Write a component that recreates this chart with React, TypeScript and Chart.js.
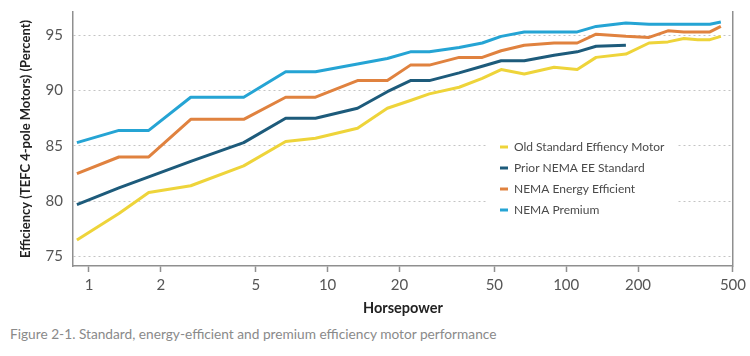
import { useEffect, useRef } from "react";
import { Chart, registerables } from "chart.js";

Chart.register(...registerables);

// Horsepower ratings (x values)
const horsepower = [1, 1.5, 2, 3, 5, 7.5, 10, 15, 20, 25, 30, 40, 50, 60, 75, 100, 125, 150, 200, 250, 300, 350, 400, 450, 500];
// Tick labels shown on the horsepower axis
const hpTickValues = [1, 2, 5, 10, 20, 50, 100, 200, 500];

const seriesNames = [
  "Old Standard Effiency Motor",
  "Prior NEMA EE Standard",
  "NEMA Energy Efficient",
  "NEMA Premium",
];

const oldStandard = [76.5, 78.9, 80.8, 81.4, 83.2, 85.4, 85.7, 86.6, 88.4, 89.1, 89.7, 90.3, 91.1, 91.9, 91.5, 92.1, 91.9, 93.0, 93.3, 94.3, 94.4, 94.7, 94.6, 94.6, 94.9];
const priorNemaEE = [79.7, 81.2, 82.2, 83.6, 85.3, 87.5, 87.5, 88.4, 89.9, 90.9, 90.9, 91.6, 92.2, 92.7, 92.7, 93.2, 93.5, 94.0, 94.1];
const nemaEnergyEfficient = [82.5, 84.0, 84.0, 87.4, 87.4, 89.4, 89.4, 90.9, 90.9, 92.3, 92.3, 93.0, 93.0, 93.6, 94.1, 94.3, 94.3, 95.1, 94.9, 94.8, 95.4, 95.3, 95.3, 95.3, 95.8];
const nemaPremium = [85.3, 86.4, 86.4, 89.4, 89.4, 91.7, 91.7, 92.4, 92.9, 93.5, 93.5, 93.9, 94.3, 94.9, 95.3, 95.3, 95.3, 95.8, 96.1, 96.0, 96.0, 96.0, 96.0, 96.0, 96.2];

const seriesColors = ["#EED43A", "#1D5B7B", "#E0823F", "#25A4D4"];

const FONT = "Lato, 'Open Sans', sans-serif";

const insideLegend = {
  id: "insideLegend",
  afterDraw(chart: any) {
    const { ctx, chartArea } = chart;
    const boxLeft = chartArea.left + 414;
    const boxTop = chartArea.top + 123;
    ctx.save();
    ctx.fillStyle = "#ffffff";
    ctx.fillRect(boxLeft, boxTop, 190, 88);
    ctx.font = `12px ${FONT}`;
    ctx.textBaseline = "middle";
    chart.data.datasets.forEach((ds: any, i: number) => {
      const y = chartArea.top + 135 + i * 21;
      ctx.strokeStyle = ds.borderColor;
      ctx.lineWidth = 3;
      ctx.beginPath();
      ctx.moveTo(boxLeft + 13, y);
      ctx.lineTo(boxLeft + 21, y);
      ctx.stroke();
      ctx.fillStyle = "#4a4a4a";
      ctx.fillText(ds.label, boxLeft + 27, y);
    });
    ctx.restore();
  },
};

const noVerticalPadding = (scale: any, width: number) => {
  scale.width = width;
  scale.paddingTop = 0;
  scale.paddingBottom = 0;
};

export default function App() {
  const canvasRef = useRef<HTMLCanvasElement | null>(null);

  useEffect(() => {
    const canvas = canvasRef.current;
    if (!canvas) return;
    const seriesValues = [oldStandard, priorNemaEE, nemaEnergyEfficient, nemaPremium];
    const chart = new Chart(canvas, {
      type: "line",
      data: {
        datasets: seriesValues.map((vals, i) => ({
          label: seriesNames[i],
          data: vals.map((v, j) => ({ x: horsepower[j], y: v })),
          borderColor: seriesColors[i],
          backgroundColor: seriesColors[i],
          borderWidth: 3,
          pointRadius: 0,
          tension: 0,
          fill: false,
          xAxisID: "xd",
          yAxisID: "y",
          borderJoinStyle: "round" as const,
        })),
      },
      options: {
        responsive: false,
        animation: false,
        devicePixelRatio: 1,
        layout: { padding: { top: 12, left: 0, right: 0, bottom: 0 } },
        plugins: {
          legend: { display: false },
          tooltip: { enabled: false },
        },
        scales: {
          xd: {
            type: "logarithmic",
            display: false,
            min: 0.963,
            max: 562,
          },
          x: {
            type: "logarithmic",
            position: "bottom",
            min: 0.857,
            max: 500,
            afterBuildTicks: (scale: any) => {
              scale.ticks = hpTickValues.map((v) => ({ value: v }));
            },
            afterFit: (scale: any) => {
              scale.height = 54;
            },
            ticks: {
              autoSkip: false,
              maxRotation: 0,
              padding: 4,
              color: "#555555",
              font: { family: FONT, size: 15 },
              callback: (v: any) => String(v),
            },
            grid: {
              drawOnChartArea: false,
              drawTicks: true,
              tickLength: 6,
              tickColor: "#8f8f8f",
              tickWidth: 1.5,
            },
            border: { display: true, color: "#8f8f8f", width: 1.5 },
            title: {
              display: true,
              text: "Horsepower",
              color: "#222222",
              font: { family: FONT, size: 14.5, weight: "bold" },
              padding: { top: 0, bottom: 3 },
            },
          },
          y: {
            type: "linear",
            position: "left",
            min: 74.15,
            max: 97.1,
            afterFit: (scale: any) => noVerticalPadding(scale, 73),
            ticks: {
              stepSize: 5,
              includeBounds: false,
              padding: 10,
              color: "#555555",
              font: { family: FONT, size: 15 },
            },
            grid: {
              color: "#c4c4c4",
              lineWidth: 1,
              drawTicks: false,
            },
            border: { display: true, color: "#8f8f8f", width: 1.5, dash: [2, 3] },
            title: {
              display: true,
              text: "Efficiency (TEFC 4-pole Motors) (Percent)",
              color: "#222222",
              font: { family: FONT, size: 13, weight: "bold" },
              padding: { top: 18, bottom: 0 },
            },
          },
          y2: {
            type: "linear",
            position: "right",
            min: 74.15,
            max: 97.1,
            afterFit: (scale: any) => noVerticalPadding(scale, 17),
            ticks: { display: false },
            grid: { display: false, drawTicks: false },
            border: { display: true, color: "#8f8f8f", width: 1.5 },
          },
        },
      } as any,
      plugins: [insideLegend],
    });
    return () => chart.destroy();
  }, []);

  return (
    <div
      style={{
        position: "absolute",
        left: 0,
        top: 0,
        width: 750,
        height: 356,
        background: "#ffffff",
        overflow: "hidden",
      }}
    >
      <canvas ref={canvasRef} width={750} height={320} style={{ display: "block", width: 750, height: 320 }} />
      <div
        style={{
          position: "absolute",
          left: 10,
          top: 325,
          fontFamily: FONT,
          fontSize: 13.7,
          color: "#8a8a8a",
          whiteSpace: "nowrap",
        }}
      >
        Figure 2-1. Standard, energy-efficient and premium efficiency motor performance
      </div>
    </div>
  );
}
